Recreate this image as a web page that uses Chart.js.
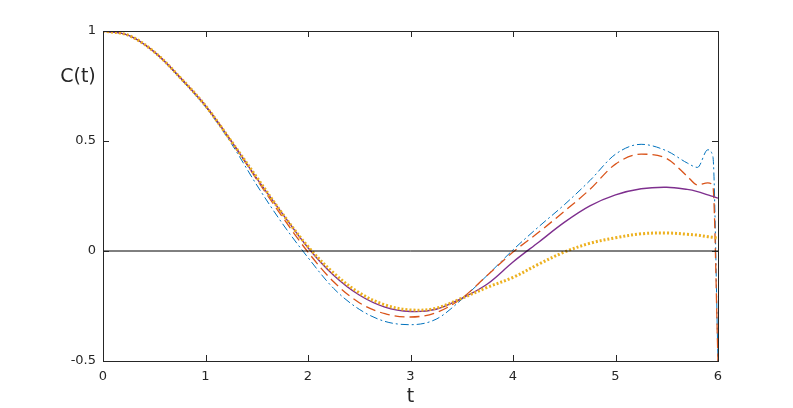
<!DOCTYPE html>
<html>
<head>
<meta charset="utf-8">
<script src="https://cdn.jsdelivr.net/npm/chart.js@4.4.1/dist/chart.umd.min.js"></script>
<style>
html,body{margin:0;padding:0;background:#fff;}
#wrap{width:793px;height:408px;position:relative;}
</style>
</head>
<body>
<div id="wrap"><canvas id="c" width="793" height="408"></canvas></div>
<script>
const tValues = [0,0.25,0.5,0.75,1,1.25,1.5,1.75,2,2.25,2.5,2.75,3,3.25,3.5,3.75,4,4.25,4.5,4.75,5,5.25,5.5,5.7,5.8,5.9,5.95,6];
const purpleSeries = [1,0.98,0.905,0.79,0.66,0.50,0.33,0.17,0.015,-0.11,-0.20,-0.255,-0.275,-0.265,-0.215,-0.15,-0.05,0.04,0.13,0.205,0.255,0.283,0.29,0.28,0.27,0.255,0.248,0.24];
const orangeSeries = [1,0.98,0.905,0.79,0.66,0.50,0.325,0.155,-0.005,-0.14,-0.235,-0.285,-0.30,-0.28,-0.215,-0.11,-0.005,0.085,0.18,0.28,0.395,0.44,0.42,0.34,0.30,0.31,0.295,-0.5];
const blueSeries = [1,0.98,0.905,0.785,0.655,0.49,0.30,0.125,-0.03,-0.17,-0.265,-0.32,-0.335,-0.31,-0.22,-0.11,0.005,0.11,0.21,0.32,0.44,0.485,0.455,0.40,0.38,0.46,0.43,-0.5];
const yellowSeries = [1,0.98,0.905,0.79,0.66,0.50,0.335,0.17,0.02,-0.10,-0.19,-0.245,-0.268,-0.26,-0.215,-0.165,-0.12,-0.06,-0.005,0.035,0.06,0.078,0.082,0.076,0.072,0.065,0.062,0.058];
const zeroT = [0,6];
const zeroSeries = [0,0];
const xTickValues = [0,1,2,3,4,5,6];
const yTickValues = [-0.5,0,0.5,1];
const xTitle = 't';
const yTitle = 'C(t)';

function pts(xs, ys){ return xs.map((x,i)=>({x:x,y:ys[i]})); }

const boxPlugin = {
  id:'box',
  afterDraw(chart){
    const ctx = chart.ctx, a = chart.chartArea;
    const xs = chart.scales.x, ys = chart.scales.y;
    ctx.save();
    ctx.strokeStyle = '#262626';
    ctx.lineWidth = 1;
    ctx.strokeRect(Math.round(a.left)+0.5, Math.round(a.top)+0.5, Math.round(a.right-a.left), Math.round(a.bottom-a.top));
    const L = 6;
    ctx.beginPath();
    xTickValues.forEach(v=>{
      const px = Math.round(xs.getPixelForValue(v))+0.5;
      ctx.moveTo(px, a.bottom); ctx.lineTo(px, a.bottom-L);
      ctx.moveTo(px, a.top); ctx.lineTo(px, a.top+L);
    });
    yTickValues.forEach(v=>{
      const py = Math.round(ys.getPixelForValue(v))+0.5;
      ctx.moveTo(a.left, py); ctx.lineTo(a.left+L, py);
      ctx.moveTo(a.right, py); ctx.lineTo(a.right-L, py);
    });
    ctx.stroke();
    ctx.fillStyle = '#262626';
    ctx.font = '19px "DejaVu Sans", sans-serif';
    ctx.textAlign = 'center';
    ctx.textBaseline = 'middle';
    ctx.fillText(yTitle, 78, 77);
    ctx.fillText(xTitle, (a.left+a.right)/2, 397);
    ctx.restore();
  }
};

new Chart(document.getElementById('c'), {
  type:'line',
  data:{
    datasets:[
      {data:pts(zeroT, zeroSeries), borderColor:'#000000', borderWidth:1, pointRadius:0, tension:0},
      {data:pts(tValues, yellowSeries), borderColor:'#EDB120', borderWidth:3, borderDash:[2,2], pointRadius:0, tension:0.35},
      {data:pts(tValues, purpleSeries), borderColor:'#7E2F8E', borderWidth:1.4, pointRadius:0, tension:0.35},
      {data:pts(tValues, orangeSeries), borderColor:'#D95319', borderWidth:1.3, borderDash:[10,5], pointRadius:0, cubicInterpolationMode:'monotone'},
      {data:pts(tValues, blueSeries), borderColor:'#0072BD', borderWidth:1, borderDash:[8,3,2,3], pointRadius:0, cubicInterpolationMode:'monotone'}
    ]
  },
  options:{
    responsive:false,
    animation:false,
    devicePixelRatio:1,
    layout:{padding:{left:0,right:75,top:31,bottom:0}},
    plugins:{legend:{display:false},tooltip:{enabled:false}},
    scales:{
      x:{type:'linear',min:0,max:6,
        afterFit(s){ s.height = 47; },
        afterBuildTicks(s){ s.ticks = xTickValues.map(v=>({value:v})); },
        grid:{display:false,drawTicks:false}, border:{display:false},
        ticks:{padding:8,color:'#262626',font:{family:'DejaVu Sans',size:13},maxRotation:0,callback:v=>String(v)}
      },
      y:{type:'linear',min:-0.5,max:1,
        afterFit(s){ s.width = 103; },
        afterBuildTicks(s){ s.ticks = yTickValues.map(v=>({value:v})); },
        grid:{display:false,drawTicks:false}, border:{display:false},
        ticks:{padding:7,color:'#262626',font:{family:'DejaVu Sans',size:13},callback:v=>String(v)}
      }
    }
  },
  plugins:[boxPlugin]
});
</script>
</body>
</html>
